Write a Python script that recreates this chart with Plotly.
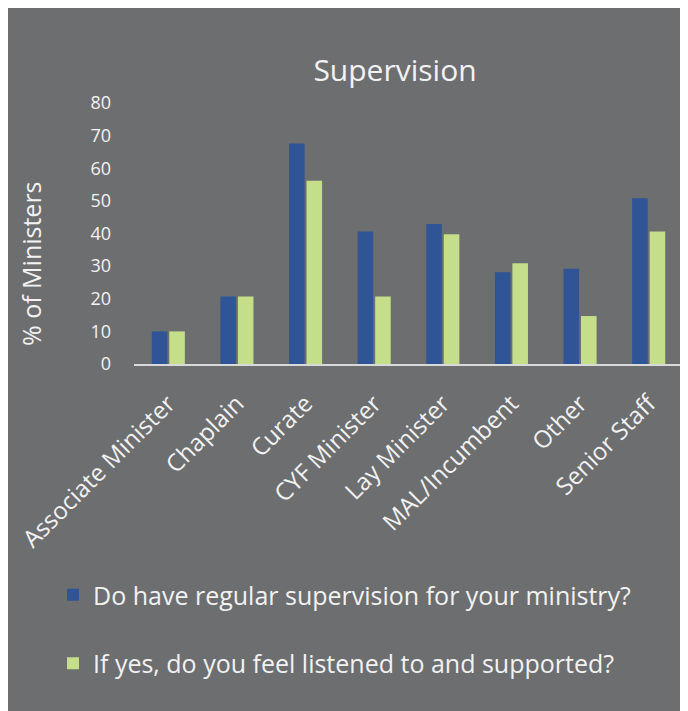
import plotly.graph_objects as go

categories = ["Associate Minister", "Chaplain", "Curate", "CYF Minister",
              "Lay Minister", "MAL/Incumbent", "Other", "Senior Staff"]
regular_supervision = [10, 20.7, 67.6, 40.6, 42.9, 28.1, 29.2, 50.8]
listened_supported = [10, 20.7, 56.2, 20.7, 39.8, 30.9, 14.7, 40.6]
series_names = ["Do have regular supervision for your ministry?",
                "If yes, do you feel listened to and supported?"]
y_ticks = [0, 10, 20, 30, 40, 50, 60, 70, 80]

BG = "#6d6e70"
TXT = "#f2f2f2"
FONT = "Open Sans, Noto Sans, sans-serif"

W, H = 675, 703
L, R, T, B = 126, 0, 95, 347
PW, PH = W - L - R, H - T - B

fig = go.Figure()
fig.add_trace(go.Bar(x=categories, y=regular_supervision, name=series_names[0],
                     marker=dict(color="#2f5597", line=dict(width=0)),
                     legendgroup="a"))
fig.add_trace(go.Bar(x=categories, y=listened_supported, name=series_names[1],
                     marker=dict(color="#c5de8a", line=dict(width=0)),
                     legendgroup="b"))

fig.update_layout(
    width=W, height=H,
    paper_bgcolor=BG,
    plot_bgcolor=BG,
    margin=dict(l=L, r=R, t=T, b=B, autoexpand=False),
    barmode="group",
    bargap=0.49,
    bargroupgap=0.11,
    font=dict(family=FONT, color=TXT, size=18),
    title=dict(text="Supervision", x=387/W, xanchor="center",
               y=1 - 62/H, yanchor="middle", xref="container", yref="container",
               font=dict(size=30, color=TXT, family=FONT)),
    showlegend=True,
    legend=dict(xref="container", yref="container", x=45/W, y=1 - 564/H,
                xanchor="left", yanchor="top",
                font=dict(size=25, color=TXT, family=FONT),
                bgcolor="rgba(0,0,0,0)",
                traceorder="grouped", tracegroupgap=33, itemwidth=30),
    annotations=[dict(text="% of Ministers", textangle=-90, showarrow=False,
                      xref="paper", yref="paper",
                      x=(23 - L)/PW, y=(H - B - 256)/PH,
                      xanchor="center", yanchor="middle",
                      font=dict(size=25, color=TXT, family=FONT))],
)

fig.update_xaxes(tickangle=-45, showgrid=False, showline=True,
                 linecolor="#d9d9d9", linewidth=2, ticks="",
                 ticklabelstandoff=14,
                 tickfont=dict(size=24, color=TXT, family=FONT))
fig.update_yaxes(range=[0, 80], tickvals=y_ticks, showgrid=False,
                 zeroline=False, showline=False, ticks="",
                 ticklabelstandoff=22,
                 tickfont=dict(size=18, color=TXT, family=FONT))

fig.write_html("out.html")
